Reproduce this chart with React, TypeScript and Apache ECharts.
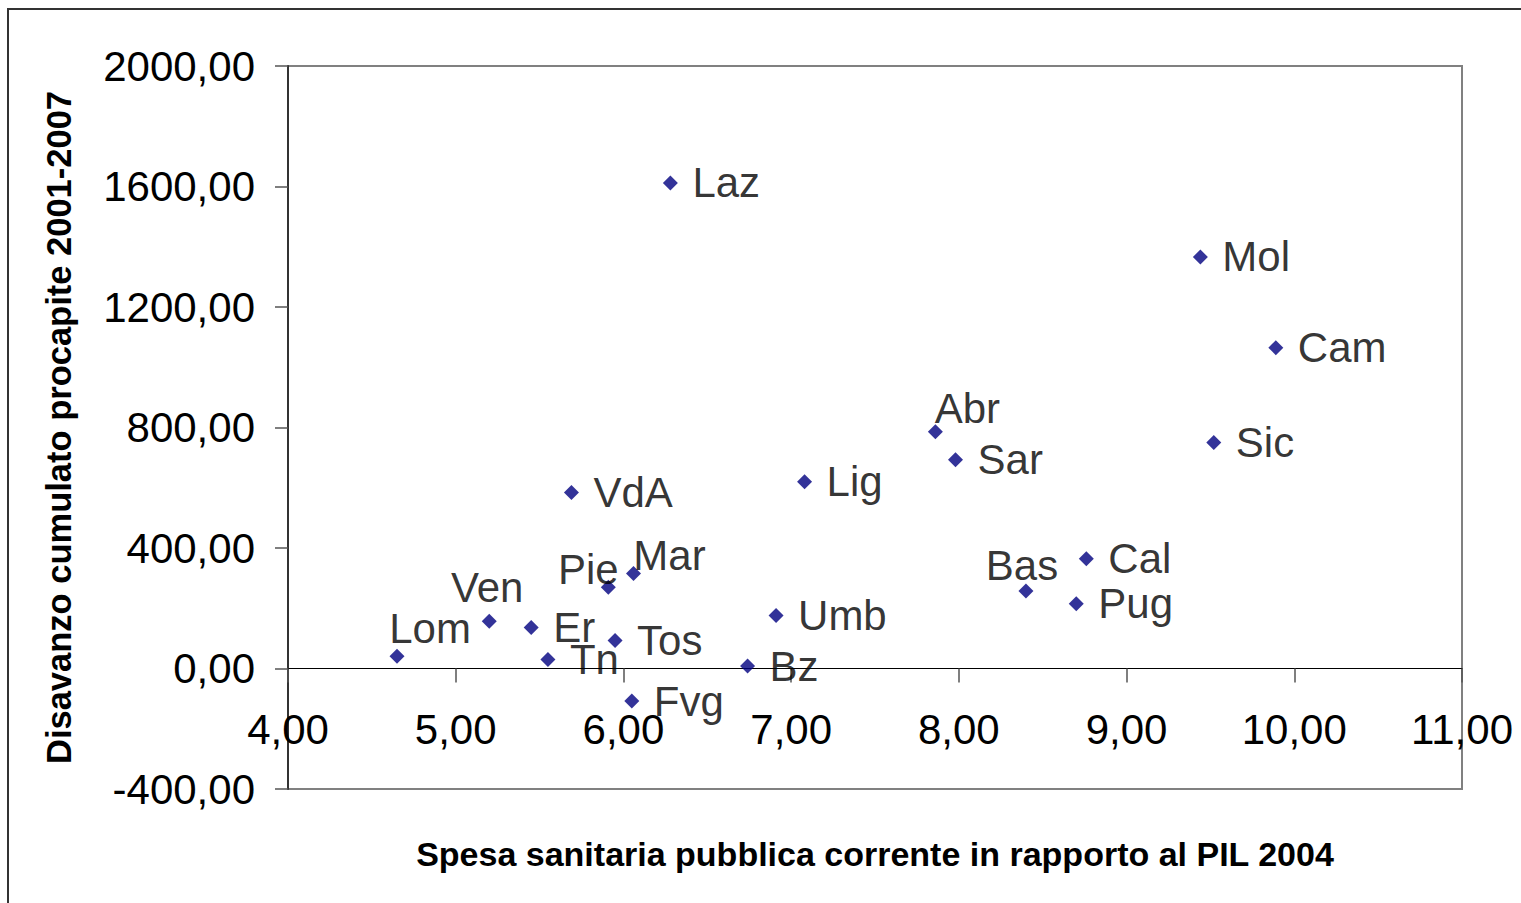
import { useEffect, useRef } from "react";
import * as echarts from "echarts";

// ---- data ----
const regions = ["Lom", "Ven", "Er", "Tn", "Pie", "Mar", "Tos", "Fvg", "VdA", "Laz", "Bz", "Umb", "Lig", "Abr", "Sar", "Bas", "Pug", "Cal", "Mol", "Sic", "Cam"];
const spesaPil = [4.65, 5.2, 5.45, 5.55, 5.91, 6.06, 5.95, 6.05, 5.69, 6.28, 6.74, 6.91, 7.08, 7.86, 7.98, 8.4, 8.7, 8.76, 9.44, 9.52, 9.89];
const disavanzo = [41, 157, 136, 30, 270, 315, 93, -108, 584, 1612, 8, 176, 620, 786, 693, 257, 215, 364, 1366, 750, 1065];

const xTitle = "Spesa sanitaria pubblica corrente in rapporto al PIL 2004";
const yTitle = "Disavanzo cumulato procapite 2001-2007";

// label placement (styling): centred offsets for labels drawn above the marker
const aboveLabelOffsets: Record<string, [number, number]> = {
  Abr: [32, -23],
  Mar: [36, -18],
  Pie: [-20, -18],
  Ven: [-2, -34],
  Lom: [33, -28],
  Bas: [-4, -26],
};

const FONT = '"Liberation Sans", Arial, Helvetica, sans-serif';
const SYMBOL = 15;
const X_MIN = 4, X_MAX = 11, Y_MIN = -400, Y_MAX = 2000;
const GRID = { left: 288, top: 66, width: 1174, height: 723 };

export default function App() {
  const ref = useRef<HTMLDivElement>(null);

  useEffect(() => {
    if (!ref.current) return;
    const chart = echarts.init(ref.current, undefined, { renderer: "svg" });

    const fmt = (v: number) => v.toFixed(2).replace(".", ",");
    const half = SYMBOL / 2;

    const data = regions.map((name, i) => {
      const off = aboveLabelOffsets[name];
      return {
        name,
        value: [spesaPil[i], disavanzo[i]],
        label: off
          ? { position: [half + off[0], half + off[1]], align: "center", verticalAlign: "middle" }
          : { position: [half + 22, half], align: "left", verticalAlign: "middle" },
      };
    });

    // x axis sits on y = 0: shift it up from the grid bottom by the height of the negative range
    const xAxisOffset = -GRID.height * (0 - Y_MIN) / (Y_MAX - Y_MIN);

    chart.setOption({
      animation: false,
      backgroundColor: "#ffffff",
      textStyle: { fontFamily: FONT },
      graphic: [
        {
          type: "rect",
          shape: { x: 8, y: 9, width: 2000, height: 2000 },
          style: { fill: "none", stroke: "#333333", lineWidth: 2 },
          silent: true,
          z: 100,
        },
      ],
      grid: {
        ...GRID,
        show: true,
        borderColor: "#808080",
        borderWidth: 2,
        backgroundColor: "transparent",
        containLabel: false,
        outerBoundsMode: "none",
      },
      xAxis: {
        type: "value",
        min: X_MIN,
        max: X_MAX,
        interval: 1,
        offset: xAxisOffset,
        name: xTitle,
        nameLocation: "middle",
        nameGap: 168,
        nameTextStyle: { fontSize: 34, fontWeight: "bold", color: "#000", fontFamily: FONT },
        axisLine: { show: true, onZero: false, lineStyle: { color: "#000", width: 1 } },
        axisTick: { show: true, length: 14, inside: false, lineStyle: { color: "#555", width: 1.5 } },
        axisLabel: { fontSize: 42, color: "#000", margin: 40, formatter: fmt, fontFamily: FONT, showMinLabel: true, showMaxLabel: true, hideOverlap: false },
        splitLine: { show: false },
      },
      yAxis: {
        type: "value",
        min: Y_MIN,
        max: Y_MAX,
        interval: 400,
        name: yTitle,
        nameLocation: "middle",
        nameGap: 212,
        nameTextStyle: { fontSize: 34.5, fontWeight: "bold", color: "#000", fontFamily: FONT },
        axisLine: { show: true, onZero: false, lineStyle: { color: "#333", width: 2 } },
        axisTick: { show: true, length: 13, inside: false, lineStyle: { color: "#555", width: 1.5 } },
        axisLabel: { fontSize: 42, color: "#000", margin: 33, formatter: fmt, fontFamily: FONT },
        splitLine: { show: false },
      },
      series: [
        {
          type: "scatter",
          symbol: "diamond",
          symbolSize: SYMBOL,
          itemStyle: { color: "#000080" },
          label: {
            show: true,
            formatter: "{b}",
            fontSize: 42,
            color: "#000",
            fontFamily: FONT,
          },
          emphasis: { disabled: true },
          data,
        },
      ],
    });

    return () => chart.dispose();
  }, []);

  return (
    <div
      ref={ref}
      style={{ position: "fixed", left: 0, top: 0, width: 1521, height: 903, background: "#fff" }}
    />
  );
}
